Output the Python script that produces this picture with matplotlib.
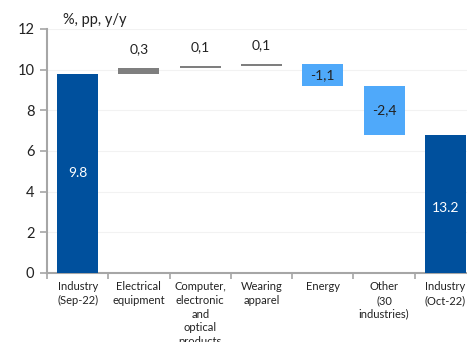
import matplotlib
matplotlib.use("Agg")
import matplotlib.pyplot as plt
import numpy as np

# Industrial production waterfall: contributions to y/y growth
categories = ["Industry\n(Sep-22)", "Electrical\nequipment",
              "Computer,\nelectronic\nand\noptical\nproducts",
              "Wearing\napparel", "Energy", "Other\n(30\nindustries)",
              "Industry\n(Oct-22)"]
start_value = 9.8
contributions = [0.3, 0.1, 0.1, -1.1, -2.4]
total_labels = ["9.8", "13.2"]
y_ticks = [0, 2, 4, 6, 8, 10, 12]
unit_label = "%, pp, y/y"

DARK_BLUE = "#00509D"
GREY = "#7F7F7F"
LIGHT_BLUE = "#4FA9FA"
AXIS_GREY = "#A6A6A6"

plt.rcParams["font.family"] = ["Lato", "DejaVu Sans"]

fig = plt.figure(figsize=(4.67, 3.42), dpi=100)
ax = fig.add_axes([47 / 467, 1 - 273 / 342, 429 / 467, 244 / 342])

x = np.arange(len(categories))
width = 0.67

# running totals for the floating bars
levels = np.concatenate([[start_value], start_value + np.cumsum(contributions)])
end_value = levels[-1]

ax.bar(x[0], start_value, width=width, color=DARK_BLUE, zorder=3)
ax.bar(x[-1], end_value, width=width, color=DARK_BLUE, zorder=3)
ax.text(x[0], start_value * 0.5, total_labels[0], ha="center", va="center",
        color="white", fontsize=10)
ax.text(x[-1], end_value * 0.47, total_labels[1], ha="center", va="center",
        color="white", fontsize=10)

for i, c in enumerate(contributions):
    lo, hi = levels[i], levels[i + 1]
    bottom = min(lo, hi)
    col = GREY if c >= 0 else LIGHT_BLUE
    ax.bar(x[i + 1], abs(c), bottom=bottom, width=width, color=col, zorder=3)
    txt = f"{c:.1f}".replace(".", ",")
    if c >= 0:
        ax.annotate(txt, (x[i + 1], max(lo, hi)), xytext=(0, 9),
                    textcoords="offset points", ha="center", va="bottom",
                    fontsize=10, color="#222222")
    else:
        ax.text(x[i + 1], (lo + hi) / 2, txt, ha="center", va="center",
                fontsize=10, color="#222222")

ax.set_xlim(-0.5, len(categories) - 0.5)
ax.set_ylim(0, 12)
ax.set_yticks(y_ticks)
ax.set_yticklabels([str(t) for t in y_ticks], fontsize=10.5, color="#222222")
ax.set_xticks(x)
ax.set_xticklabels(categories, fontsize=8, color="#222222", linespacing=1.3)
ax.tick_params(axis="x", length=0, pad=6)
ax.set_xticks(np.arange(-0.5, len(categories), 1.0), minor=True)
ax.tick_params(axis="x", which="minor", length=4, color=AXIS_GREY, width=1.2)
ax.tick_params(axis="y", length=5, color=AXIS_GREY, width=1.2, pad=4)

ax.grid(axis="y", color="#F2F2F2", linewidth=0.8, zorder=0)
for side in ["top", "right"]:
    ax.spines[side].set_visible(False)
for side in ["left", "bottom"]:
    ax.spines[side].set_color(AXIS_GREY)
    ax.spines[side].set_linewidth(1.5)

fig.text(63 / 467, 1 - 20 / 342, unit_label, ha="left", va="center",
         fontsize=10.5, color="#222222")

fig.savefig("out.png", dpi=100)
